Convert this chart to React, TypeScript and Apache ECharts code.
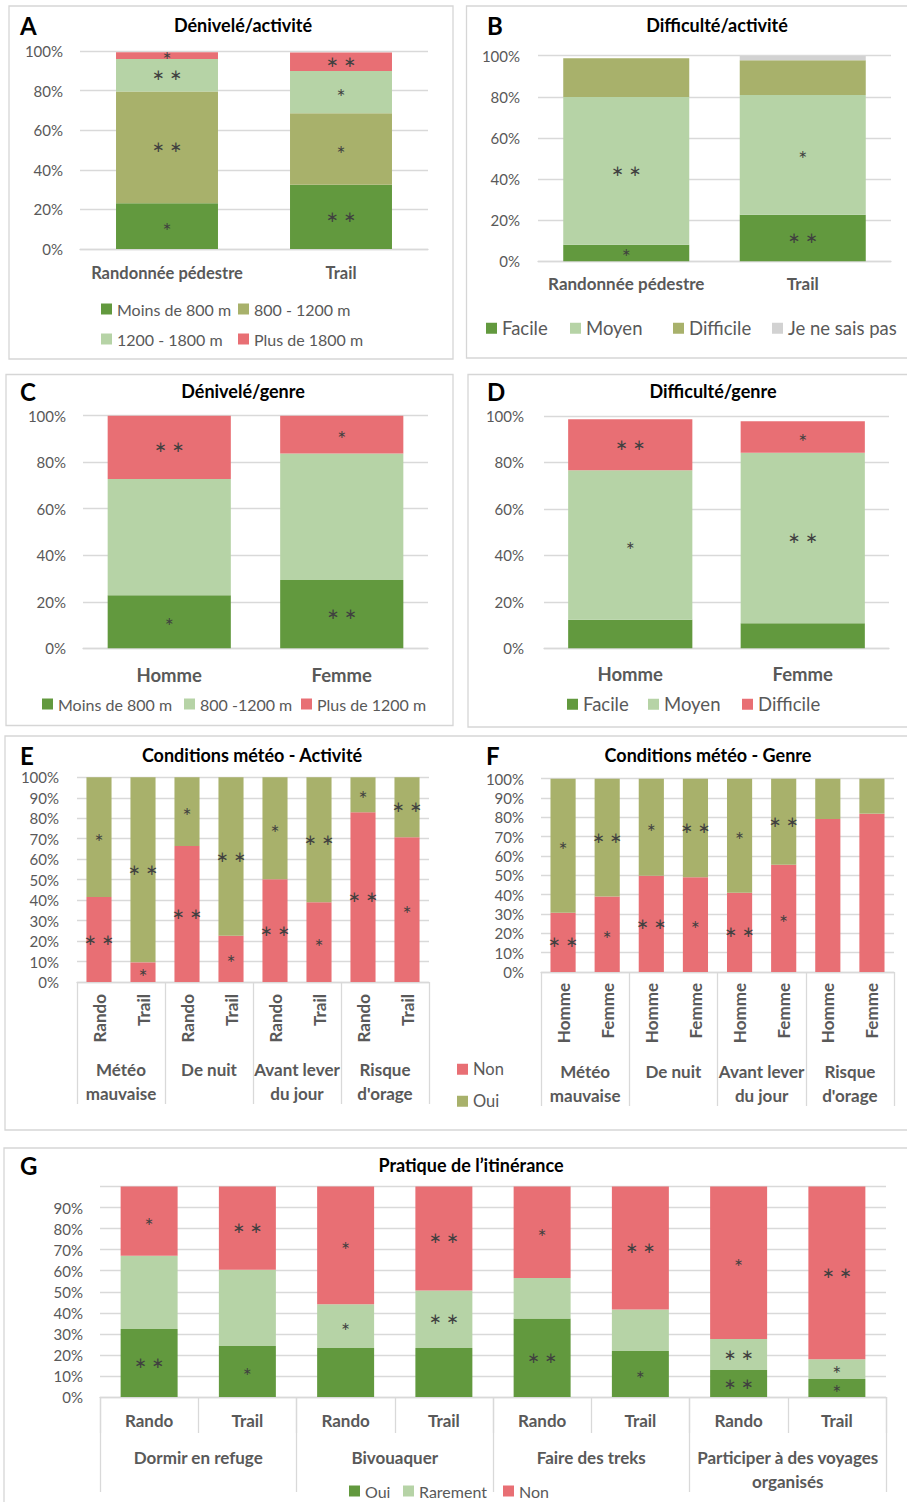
import React, { useEffect, useRef } from 'react';
import * as echarts from 'echarts';

// ---------- DATA ----------
const catsActivite = ['Randonnée pédestre', 'Trail'];
const catsGenre = ['Homme', 'Femme'];

// A - Dénivelé/activité
const aMoins800 = [23.1, 32.5];
const a800_1200 = [56.4, 36];
const a1200_1800 = [16.5, 21.4];
const aPlus1800 = [3.4, 9.4];
const aMoins800Sig = ['*', '**'];
const a800_1200Sig = ['**', '*'];
const a1200_1800Sig = ['**', '*'];
const aPlus1800Sig = ['*', '**'];

// B - Difficulté/activité
const bFacile = [8.1, 22.7];
const bMoyen = [71.8, 58.2];
const bDifficile = [18.8, 16.9];
const bJnsp = [0, 2.1];
const bFacileSig = ['*', '**'];
const bMoyenSig = ['**', '*'];
const bDifficileSig = ['', ''];
const bJnspSig = ['', ''];

// C - Dénivelé/genre
const cMoins800 = [22.8, 29.4];
const c800_1200 = [50, 54.4];
const cPlus1200 = [27.2, 16.2];
const cMoins800Sig = ['*', '**'];
const c800_1200Sig = ['', ''];
const cPlus1200Sig = ['**', '*'];

// D - Difficulté/genre
const dFacile = [12.3, 10.8];
const dMoyen = [64.3, 73.4];
const dDifficile = [22, 13.5];
const dFacileSig = ['', ''];
const dMoyenSig = ['*', '**'];
const dDifficileSig = ['**', '*'];

// E / F - Conditions météo
const meteoGroups = ['Météo\nmauvaise', 'De nuit', 'Avant lever\ndu jour', "Risque\nd'orage"];
const eCats = ['Rando', 'Trail', 'Rando', 'Trail', 'Rando', 'Trail', 'Rando', 'Trail'];
const eNon = [41.5, 9.6, 66.4, 22.6, 50.2, 38.9, 82.9, 70.7];
const eOui = [58.5, 90.4, 33.6, 77.4, 49.8, 61.1, 17.1, 29.3];
const eNonSig = ['**', '*', '**', '*', '**', '*', '**', '*'];
const eOuiSig = ['*', '**', '*', '**', '*', '**', '*', '**'];

const fCats = ['Homme', 'Femme', 'Homme', 'Femme', 'Homme', 'Femme', 'Homme', 'Femme'];
const fNon = [30.7, 39, 49.8, 49, 41, 55.5, 79.1, 81.9];
const fOui = [69.3, 61, 50.2, 51, 59, 44.5, 20.9, 18.1];
const fNonSig = ['**', '*', '**', '*', '**', '*', '', ''];
const fOuiSig = ['*', '**', '*', '**', '*', '**', '', ''];

// G - Pratique de l'itinérance
const gGroups = ['Dormir en refuge', 'Bivouaquer', 'Faire des treks', 'Participer à des voyages\norganisés'];
const gCats = ['Rando', 'Trail', 'Rando', 'Trail', 'Rando', 'Trail', 'Rando', 'Trail'];
const gOui = [32.3, 24.2, 23.3, 23.3, 37.3, 21.8, 12.8, 8.5];
const gRarement = [34.8, 36.2, 20.8, 27.3, 19.2, 19.8, 14.7, 9.4];
const gNon = [32.9, 39.6, 55.9, 49.4, 43.5, 58.4, 72.5, 82.1];
const gOuiSig = ['**', '*', '', '', '**', '*', '**', '*'];
const gRarementSig = ['', '', '*', '**', '', '', '**', '*'];
const gNonSig = ['*', '**', '*', '**', '*', '**', '*', '**'];

// ---------- STYLE ----------
const FONT = 'Lato, "Noto Sans", sans-serif';
const GRAY = '#595959';
const GRIDC = '#D9D9D9';
const C_DARK = '#62993E';
const C_OLIVE = '#A8B16B';
const C_LIGHT = '#B6D3A6';
const C_RED = '#E86F74';
const C_GREY = '#D2D2D2';

function starLabel(arr: string[]) {
  return {
    show: true,
    position: 'inside',
    formatter: (p: any) => {
      const s = arr[p.dataIndex];
      if (!s) return '';
      return s === '**' ? '{d|∗ ∗}' : '{s|∗}';
    },
    rich: {
      s: { fontSize: 11, color: '#404040', fontFamily: 'DejaVu Sans' },
      d: { fontSize: 15, color: '#404040', fontFamily: 'DejaVu Sans' },
    },
  };
}

function bar(name: string, data: number[], color: string, sig: string[], idx: number, xi: number, bw: string) {
  return {
    type: 'bar',
    name,
    data,
    stack: 'st' + idx,
    xAxisIndex: xi,
    yAxisIndex: idx,
    barWidth: bw,
    itemStyle: { color },
    label: starLabel(sig),
    emphasis: { disabled: true },
  };
}

function legendItem(name: string, left: number, cy: number, fs: number) {
  return {
    data: [name],
    left,
    top: cy - fs / 2,
    padding: 0,
    itemWidth: 11,
    itemHeight: 11,
    icon: 'rect',
    selectedMode: false,
    formatter: (n: string) => n.split('|')[1],
    textStyle: { fontSize: fs, color: GRAY, fontFamily: FONT },
  };
}

function yAx(gi: number, interval: number, margin: number, hideMax = false) {
  return {
    type: 'value',
    gridIndex: gi,
    min: 0,
    max: 100,
    interval,
    axisLine: { show: false },
    axisTick: { show: false },
    splitLine: { lineStyle: { color: GRIDC, width: 1.3 } },
    axisLabel: {
      margin,
      fontSize: 15,
      color: GRAY,
      fontFamily: FONT,
      formatter: (v: number) => (hideMax && v === 100 ? '' : v + '%'),
    },
  };
}

function xSimple(gi: number, data: string[], margin: number, fs: number) {
  return {
    type: 'category',
    gridIndex: gi,
    data,
    axisLine: { lineStyle: { color: GRIDC, width: 1.3 } },
    axisTick: { show: false },
    axisLabel: { interval: 0, margin, fontSize: fs, fontWeight: 'bold', color: GRAY, fontFamily: FONT },
  };
}

function xInner(gi: number, data: string[], margin: number, rotate: number, tickLen: number) {
  return {
    type: 'category',
    gridIndex: gi,
    data,
    position: 'bottom',
    axisLine: { onZero: false, lineStyle: { color: GRIDC, width: 1.3 } },
    axisTick: { show: tickLen > 0, length: tickLen, interval: 0, lineStyle: { color: GRIDC, width: 1.3 } },
    axisLabel: { interval: 0, margin, rotate, fontSize: 17, fontWeight: 'bold', color: GRAY, fontFamily: FONT },
  };
}

function xGroup(gi: number, data: string[], margin: number, tickLen: number) {
  return {
    type: 'category',
    gridIndex: gi,
    data,
    position: 'bottom',
    axisLine: { show: false, onZero: false },
    axisTick: { show: true, length: tickLen, interval: 0, lineStyle: { color: GRIDC, width: 1.3 } },
    axisLabel: { interval: 0, margin, fontSize: 17, lineHeight: 24, fontWeight: 'bold', color: GRAY, fontFamily: FONT },
  };
}

function border(x: number, y: number, w: number, h: number) {
  return { type: 'rect', shape: { x, y, width: w, height: h }, style: { fill: 'none', stroke: '#D6D6D6', lineWidth: 1.3 }, silent: true };
}

function txt(text: string, x: number, y: number, size: number, align: string) {
  return {
    type: 'text',
    x,
    y,
    style: { text, fontSize: size, fontWeight: 'bold', fontFamily: FONT, fill: '#000', align, verticalAlign: 'middle' },
    silent: true,
  };
}

export default function App() {
  const ref = useRef<HTMLDivElement>(null);
  useEffect(() => {
    if (!ref.current) return;
    const chart = echarts.init(ref.current, undefined, { renderer: 'svg' });
    const option: any = {
      animation: false,
      backgroundColor: '#fff',
      grid: [
        { left: 80, top: 51, width: 348, height: 198 },
        { left: 538, top: 55.7, width: 353, height: 205.6 },
        { left: 83, top: 415.7, width: 345, height: 232.6 },
        { left: 544, top: 416, width: 345, height: 232.3 },
        { left: 77, top: 777.3, width: 352, height: 204.7 },
        { left: 541, top: 778.7, width: 353, height: 193.3 },
        { left: 100, top: 1186.5, width: 786, height: 210.5 },
      ],
      xAxis: [
        xSimple(0, catsActivite, 15, 16.5),
        xSimple(1, catsActivite, 14, 17),
        xSimple(2, catsGenre, 17, 18.5),
        xSimple(3, catsGenre, 16, 18.5),
        xInner(4, eCats, 12, 90, 0),
        xGroup(4, meteoGroups, 75, 122),
        xInner(5, fCats, 11, 90, 0),
        xGroup(5, meteoGroups, 87, 134),
        xInner(6, gCats, 15, 0, 36),
        xGroup(6, gGroups, 48, 95),
      ],
      yAxis: [
        yAx(0, 20, 17),
        yAx(1, 20, 18),
        yAx(2, 20, 17),
        yAx(3, 20, 20),
        yAx(4, 10, 18),
        yAx(5, 10, 17),
        yAx(6, 10, 17, true),
      ],
      legend: [
        legendItem('A|Moins de 800 m', 101, 309, 16),
        legendItem('A|800 - 1200 m', 238, 309, 16),
        legendItem('A|1200 - 1800 m', 101, 339, 16),
        legendItem('A|Plus de 1800 m', 238, 339, 16),
        legendItem('B|Facile', 486, 328, 18.5),
        legendItem('B|Moyen', 570, 328, 18.5),
        legendItem('B|Difficile', 673, 328, 18.5),
        legendItem('B|Je ne sais pas', 772, 328, 18.5),
        legendItem('C|Moins de 800 m', 42, 704, 16),
        legendItem('C|800 -1200 m', 184, 704, 16),
        legendItem('C|Plus de 1200 m', 301, 704, 16),
        legendItem('D|Facile', 567, 704, 18.5),
        legendItem('D|Moyen', 648, 704, 18.5),
        legendItem('D|Difficile', 742, 704, 18.5),
        legendItem('E|Non', 457, 1069, 16.5),
        legendItem('E|Oui', 457, 1101, 16.5),
        legendItem('G|Oui', 349, 1491, 16),
        legendItem('G|Rarement', 403, 1491, 16),
        legendItem('G|Non', 503, 1491, 16),
      ],
      series: [
        bar('A|Moins de 800 m', aMoins800, C_DARK, aMoins800Sig, 0, 0, '58.6%'),
        bar('A|800 - 1200 m', a800_1200, C_OLIVE, a800_1200Sig, 0, 0, '58.6%'),
        bar('A|1200 - 1800 m', a1200_1800, C_LIGHT, a1200_1800Sig, 0, 0, '58.6%'),
        bar('A|Plus de 1800 m', aPlus1800, C_RED, aPlus1800Sig, 0, 0, '58.6%'),

        bar('B|Facile', bFacile, C_DARK, bFacileSig, 1, 1, '71.4%'),
        bar('B|Moyen', bMoyen, C_LIGHT, bMoyenSig, 1, 1, '71.4%'),
        bar('B|Difficile', bDifficile, C_OLIVE, bDifficileSig, 1, 1, '71.4%'),
        bar('B|Je ne sais pas', bJnsp, C_GREY, bJnspSig, 1, 1, '71.4%'),

        bar('C|Moins de 800 m', cMoins800, C_DARK, cMoins800Sig, 2, 2, '71.4%'),
        bar('C|800 -1200 m', c800_1200, C_LIGHT, c800_1200Sig, 2, 2, '71.4%'),
        bar('C|Plus de 1200 m', cPlus1200, C_RED, cPlus1200Sig, 2, 2, '71.4%'),

        bar('D|Facile', dFacile, C_DARK, dFacileSig, 3, 3, '72%'),
        bar('D|Moyen', dMoyen, C_LIGHT, dMoyenSig, 3, 3, '72%'),
        bar('D|Difficile', dDifficile, C_RED, dDifficileSig, 3, 3, '72%'),

        bar('E|Non', eNon, C_RED, eNonSig, 4, 4, '57%'),
        bar('E|Oui', eOui, C_OLIVE, eOuiSig, 4, 4, '57%'),

        bar('F|Non', fNon, C_RED, fNonSig, 5, 6, '57%'),
        bar('F|Oui', fOui, C_OLIVE, fOuiSig, 5, 6, '57%'),

        bar('G|Oui', gOui, C_DARK, gOuiSig, 6, 8, '58%'),
        bar('G|Rarement', gRarement, C_LIGHT, gRarementSig, 6, 8, '58%'),
        bar('G|Non', gNon, C_RED, gNonSig, 6, 8, '58%'),
      ],
      graphic: [
        border(9, 6, 444, 353),
        border(466.5, 6, 450, 352),
        border(6, 374.5, 447, 351),
        border(468, 374.5, 450, 352.5),
        border(5, 736, 910, 394),
        border(4, 1148, 910, 360),
        txt('A', 20, 25, 24, 'left'),
        txt('Dénivelé/activité', 243, 25, 18, 'center'),
        txt('B', 487, 25, 24, 'left'),
        txt('Difficulté/activité', 717, 25, 18, 'center'),
        txt('C', 20, 391, 24, 'left'),
        txt('Dénivelé/genre', 243, 391, 18, 'center'),
        txt('D', 487, 391, 24, 'left'),
        txt('Difficulté/genre', 713, 391, 18, 'center'),
        txt('E', 20, 755, 24, 'left'),
        txt('Conditions météo - Activité', 252, 755, 18, 'center'),
        txt('F', 486, 755, 24, 'left'),
        txt('Conditions météo - Genre', 708, 755, 18, 'center'),
        txt('G', 20, 1165, 24, 'left'),
        txt('Pratique de l’itinérance', 471, 1165, 18, 'center'),
      ],
    };
    chart.setOption(option);
    return () => chart.dispose();
  }, []);
  return (
    <div
      ref={ref}
      style={{ position: 'absolute', left: 0, top: 0, width: 907, height: 1502, background: '#fff' }}
    />
  );
}
